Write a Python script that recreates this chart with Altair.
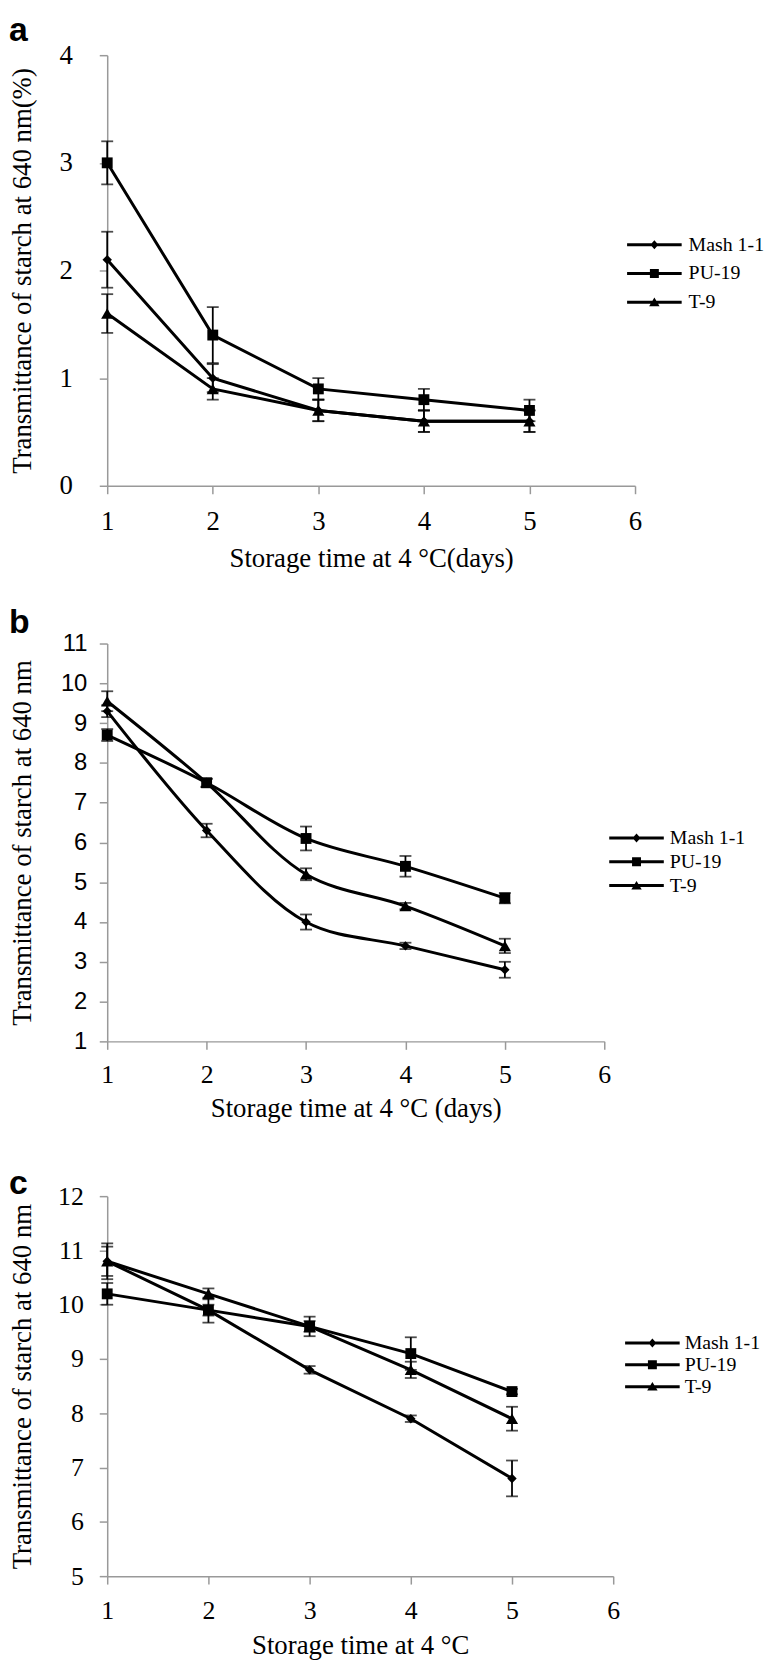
import altair as alt
import pandas as pd

days = [1, 2, 3, 4, 5]
series = ["Mash 1-1", "PU-19", "T-9"]
x_ticks = [1, 2, 3, 4, 5, 6]

# Panel a
a_mash = [2.1, 1.0, 0.7, 0.6, 0.6]
a_mash_err = [0.26, 0.13, 0.1, 0.1, 0.1]
a_pu = [3.0, 1.4, 0.9, 0.8, 0.7]
a_pu_err = [0.2, 0.26, 0.1, 0.1, 0.1]
a_t9 = [1.6, 0.9, 0.7, 0.6, 0.6]
a_t9_err = [0.18, 0.1, 0.1, 0.1, 0.1]
a_yticks = [0, 1, 2, 3, 4]

# Panel b
b_mash = [9.3, 6.3, 4.0, 3.4, 2.8]
b_mash_err = [0.15, 0.17, 0.19, 0.08, 0.2]
b_pu = [8.7, 7.5, 6.1, 5.4, 4.6]
b_pu_err = [0.15, 0.1, 0.3, 0.26, 0.13]
b_t9 = [9.55, 7.5, 5.2, 4.4, 3.4]
b_t9_err = [0.25, 0.1, 0.15, 0.08, 0.18]
b_yticks = [1, 2, 3, 4, 5, 6, 7, 8, 9, 10, 11]

# Panel c
c_mash = [10.8, 9.9, 8.8, 7.9, 6.8]
c_mash_err = [0.33, 0.1, 0.07, 0.06, 0.33]
c_pu = [10.2, 9.9, 9.6, 9.1, 8.4]
c_pu_err = [0.2, 0.23, 0.18, 0.3, 0.05]
c_t9 = [10.8, 10.2, 9.6, 8.8, 7.9]
c_t9_err = [0.27, 0.1, 0.1, 0.15, 0.22]
c_yticks = [5, 6, 7, 8, 9, 10, 11, 12]

SERIF = "Liberation Serif"
SANS = "Liberation Sans"
GRAY = "#999999"

marker_shapes = ["diamond", "square", "triangle-up"]
marker_sizes = [90, 150, 130]
# legend glyph: a line segment with the marker in its middle (units of 5 px)
LINE = "M-1,-0.3H10V0.3H-1Z "
legend_shapes = [
    LINE + "M4.5,-0.9L5.3,0L4.5,0.9L3.7,0Z",
    LINE + "M3.6,-0.9H5.4V0.9H3.6Z",
    LINE + "M4.5,-0.95L5.55,0.8H3.45Z",
]


def make_df(vals, errs):
    rows = []
    for s, v, e in zip(series, vals, errs):
        for d, vv, ee in zip(days, v, e):
            rows.append({"day": d, "val": vv, "lo": vv - ee, "hi": vv + ee, "series": s})
    return pd.DataFrame(rows)


def panel(df, letter, letter_y, ydom, yticks, w, h, ytitle, xtitle, o):
    xs = alt.Scale(domain=[1, 6], nice=False, zero=False)
    ys = alt.Scale(domain=ydom, nice=False, zero=False)
    xaxis = alt.Axis(
        values=x_ticks, format="d", title=xtitle, grid=False,
        domainColor=GRAY, domainWidth=1.5, tickColor=GRAY, tickWidth=1.5, tickSize=8,
        labelFont=SERIF, labelFontSize=o["xlab_size"], labelColor="black",
        labelPadding=o["xlab_pad"], labelFlush=False, labelOverlap=False,
        titleFont=SERIF, titleFontSize=27, titleFontWeight="normal", titleColor="black",
        titleBaseline="alphabetic", titleX=w / 2, titleY=o["xtitle_y"],
    )
    yaxis = alt.Axis(
        values=yticks, format="d", title=ytitle, grid=False,
        domainColor=GRAY, domainWidth=1.5, tickColor=GRAY, tickWidth=1.5, tickSize=8,
        labelFont=o["ylab_font"], labelFontSize=o["ylab_size"], labelColor="black",
        labelPadding=o["ylab_pad"], labelFlush=False, labelOverlap=False,
        titleFont=SERIF, titleFontSize=27, titleFontWeight="normal", titleColor="black",
        titleBaseline="alphabetic", titleAngle=270, titleX=-77, titleY=h / 2,
    )
    base = alt.Chart(df)
    X = alt.X("day:Q", scale=xs, axis=xaxis)
    line = base.mark_line(color="black", strokeWidth=3, interpolate=o["interp"]).encode(
        x=X, y=alt.Y("val:Q", scale=ys, axis=yaxis), detail="series:N"
    )
    rule = base.mark_rule(color="black", strokeWidth=1.8).encode(
        x=X, y=alt.Y("lo:Q", scale=ys, axis=yaxis), y2="hi:Q",
    )
    cap_lo = base.mark_tick(color="black", orient="horizontal", size=12, thickness=1.8).encode(
        x=X, y=alt.Y("lo:Q", scale=ys, axis=yaxis)
    )
    cap_hi = base.mark_tick(color="black", orient="horizontal", size=12, thickness=1.8).encode(
        x=X, y=alt.Y("hi:Q", scale=ys, axis=yaxis)
    )
    pts = base.mark_point(filled=True, color="black", opacity=1).encode(
        x=X, y=alt.Y("val:Q", scale=ys, axis=yaxis),
        shape=alt.Shape("series:N", scale=alt.Scale(domain=series, range=marker_shapes), legend=None),
        size=alt.Size("series:N", scale=alt.Scale(domain=series, range=marker_sizes), legend=None),
    )
    leg = base.mark_point(filled=True, color="black", opacity=0).encode(
        x=X, y=alt.Y("val:Q", scale=ys, axis=yaxis),
        shape=alt.Shape(
            "series:N",
            scale=alt.Scale(domain=series, range=legend_shapes),
            legend=alt.Legend(
                title=None, orient="none", legendX=o["leg_x"], legendY=o["leg_y"],
                symbolSize=100, symbolFillColor="black", symbolStrokeColor="black",
                symbolStrokeWidth=0, symbolOpacity=1, padding=0,
                labelFont=SERIF, labelFontSize=20, labelColor="black",
                labelOffset=o["leg_off"], rowPadding=o["leg_row"], labelLimit=400,
            ),
        ),
    )
    lab = alt.Chart(pd.DataFrame({"t": [letter]})).mark_text(
        font=SANS, fontWeight="bold", fontSize=34, align="left", baseline="alphabetic", color="black"
    ).encode(text="t:N", x=alt.value(-99), y=alt.value(letter_y))
    return (
        alt.layer(line, rule, cap_lo, cap_hi, pts, leg, lab)
        .resolve_scale(shape="independent")
        .properties(width=w, height=h)
    )


pa = panel(
    make_df([a_mash, a_pu, a_t9], [a_mash_err, a_pu_err, a_t9_err]), "a", -14,
    [0, 4], a_yticks, 532, 434,
    "Transmittance of starch  at 640 nm(%)", "Storage time at 4 °C(days)",
    dict(xlab_size=27, xlab_pad=15, xtitle_y=81, ylab_font=SERIF, ylab_size=27, ylab_pad=27,
         interp="linear", leg_x=519, leg_y=181, leg_off=47, leg_row=9),
)
pb = panel(
    make_df([b_mash, b_pu, b_t9], [b_mash_err, b_pu_err, b_t9_err]), "b", -11,
    [1, 11], b_yticks, 501, 401,
    "Transmittance of starch at 640 nm", "Storage time at 4 °C (days)",
    dict(xlab_size=26, xlab_pad=12, xtitle_y=76, ylab_font=SANS, ylab_size=24, ylab_pad=12.5,
         interp="catmull-rom", leg_x=501, leg_y=186, leg_off=46, leg_row=4),
)
pc = panel(
    make_df([c_mash, c_pu, c_t9], [c_mash_err, c_pu_err, c_t9_err]), "c", -2,
    [5, 12], c_yticks, 510, 383,
    "Transmittance of starch at 640 nm", "Storage time at 4 °C",
    dict(xlab_size=26, xlab_pad=14, xtitle_y=78, ylab_font=SERIF, ylab_size=26, ylab_pad=16,
         interp="linear", leg_x=517, leg_y=138, leg_off=45, leg_row=2),
)

chart = (
    alt.vconcat(pa, alt.vconcat(pb, pc, spacing=46), spacing=35)
    .properties(padding=0, background="white")
    .configure_view(stroke=None)
)
chart.save("out.html", embed_options={"renderer": "svg", "actions": False})
